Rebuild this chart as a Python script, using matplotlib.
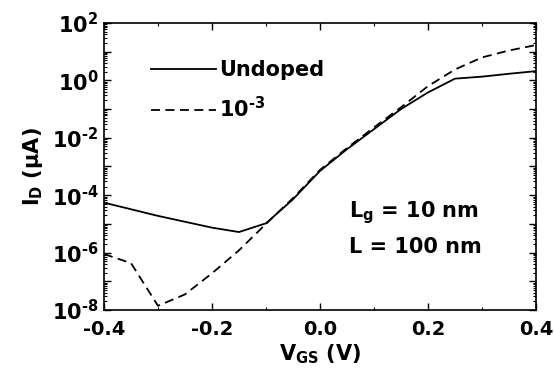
import numpy as np
import matplotlib
matplotlib.use("Agg")
import matplotlib.pyplot as plt
from matplotlib.ticker import LogLocator, MultipleLocator, FuncFormatter, NullFormatter

# gate voltage (V)
vgs = [-0.4, -0.3, -0.2, -0.15, -0.1, -0.05, 0.0, 0.05, 0.1, 0.15, 0.2, 0.25, 0.3, 0.35, 0.4]
# drain current, undoped (uA)
id_undoped = [5.5e-5, 1.9e-5, 7.4e-6, 5.2e-6, 1.05e-5, 7.2e-5, 7.0e-4, 4.0e-3,
              2.0e-2, 0.1, 0.38, 1.15, 1.35, 1.7, 2.1]

vgs_doped = [-0.4, -0.35, -0.3, -0.25, -0.2, -0.15, -0.1, -0.05, 0.0, 0.05, 0.1,
             0.15, 0.2, 0.25, 0.3, 0.35, 0.4]
# drain current, doping 1e-3 (uA)
id_doped = [8.9e-7, 4.3e-7, 1.4e-8, 3.5e-8, 1.9e-7, 1.2e-6, 1.0e-5, 7.9e-5, 7.6e-4,
            4.4e-3, 2.3e-2, 0.115, 0.63, 2.4, 6.3, 11.0, 17.0]

HYPHEN = "\u2010"
labels = ["Undoped", r"10$^{\mathregular{%s3}}$" % HYPHEN]

plt.rcParams["font.family"] = ["DejaVu Sans"]
plt.rcParams["font.weight"] = "bold"
plt.rcParams["axes.labelweight"] = "bold"
plt.rcParams["axes.unicode_minus"] = False
plt.rcParams["mathtext.fontset"] = "custom"
plt.rcParams["mathtext.rm"] = "DejaVu Sans:bold"
plt.rcParams["mathtext.it"] = "DejaVu Sans:bold"
plt.rcParams["mathtext.bf"] = "DejaVu Sans:bold"
plt.rcParams["mathtext.default"] = "rm"

fig = plt.figure(figsize=(5.54, 3.83), dpi=100)
ax = fig.add_axes([0.1877, 0.1906, 0.7798, 0.7494])

ax.plot(vgs, id_undoped, "-k", lw=1.3, label=labels[0])
ax.plot(vgs_doped, id_doped, color="k", lw=1.3, linestyle=(0, (5, 3)), label=labels[1])

ax.set_yscale("log")
ax.set_xlim(-0.4, 0.4)
ax.set_ylim(1e-8, 1e2)

ax.xaxis.set_major_locator(MultipleLocator(0.2))
ax.xaxis.set_minor_locator(MultipleLocator(0.1))
ax.xaxis.set_major_formatter(FuncFormatter(lambda v, p: "{:.1f}".format(v)))

ax.yaxis.set_major_locator(LogLocator(base=10, numticks=20))
ax.yaxis.set_minor_locator(LogLocator(base=10, subs=np.arange(2, 10), numticks=20))
ax.yaxis.set_minor_formatter(NullFormatter())


def ylab(v, p):
    e = int(round(np.log10(v)))
    if e % 2:
        return ""
    return r"10$^{\mathregular{%s}}$" % str(e).replace("-", HYPHEN)


ax.yaxis.set_major_formatter(FuncFormatter(ylab))

ax.tick_params(which="both", direction="in", top=True, right=True)
ax.tick_params(which="major", length=5, width=1)
ax.tick_params(which="minor", length=2.5, width=0.8)
ax.tick_params(axis="x", pad=7, labelsize=14)
ax.tick_params(axis="y", pad=4, labelsize=15)
for s in ax.spines.values():
    s.set_linewidth(1.2)

ax.set_xlabel(r"V$_{\mathregular{GS}}$ (V)", fontsize=15, labelpad=3)
ax.set_ylabel(r"I$_{\mathregular{D}}$ (μA)", fontsize=15, labelpad=5)

ax.legend(loc="upper left", bbox_to_anchor=(0.09, 0.9), frameon=False,
          fontsize=15, handlelength=3.1, handletextpad=0.15, labelspacing=0.75,
          borderaxespad=0)

ax.text(0.567, 0.341, r"L$_{\mathregular{g}}$ = 10 nm", transform=ax.transAxes,
        fontsize=15, va="center", ha="left")
ax.text(0.567, 0.22, "L = 100 nm", transform=ax.transAxes,
        fontsize=15, va="center", ha="left")

fig.savefig("out.png", dpi=100)
